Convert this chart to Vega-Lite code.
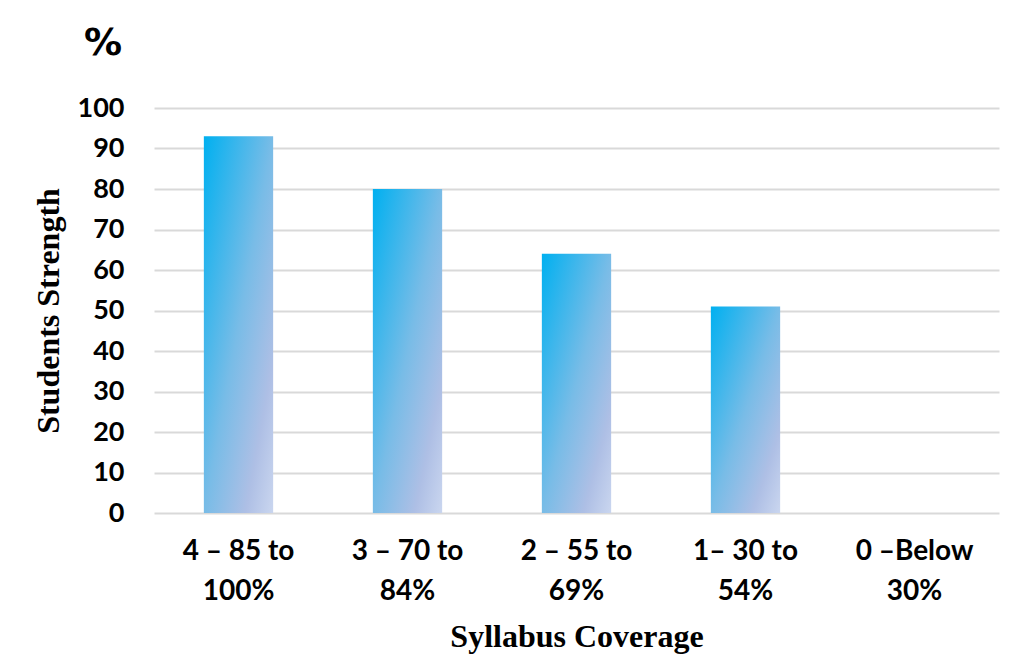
{
  "$schema": "https://vega.github.io/schema/vega-lite/v6.json",
  "width": 845,
  "height": 405,
  "autosize": {"type": "none"},
  "padding": {"left": 154, "top": 108, "right": 13, "bottom": 153},
  "background": "white",
  "config": {"view": {"stroke": null}},
  "title": {
    "text": "%",
    "anchor": "start",
    "frame": "group",
    "font": "DejaVu Sans",
    "fontWeight": "bold",
    "fontSize": 38,
    "color": "#000000",
    "dx": -70,
    "offset": 31
  },
  "data": {
    "values": [
      {"coverage": "4 – 85 to 100%", "strength": 93},
      {"coverage": "3 – 70 to 84%", "strength": 80},
      {"coverage": "2 – 55 to 69%", "strength": 64},
      {"coverage": "1– 30 to 54%", "strength": 51},
      {"coverage": "0 –Below 30%", "strength": 0}
    ]
  },
  "mark": {
    "type": "bar",
    "color": {
      "gradient": "linear",
      "x1": 0, "y1": 0, "x2": 1, "y2": 1,
      "stops": [
        {"offset": 0, "color": "#00B0F0"},
        {"offset": 0.5, "color": "#78BCE7"},
        {"offset": 0.8, "color": "#AEBFE5"},
        {"offset": 1, "color": "#CAD6EF"}
      ]
    }
  },
  "encoding": {
    "x": {
      "field": "coverage",
      "type": "nominal",
      "sort": null,
      "scale": {"paddingInner": 0.59, "paddingOuter": 0.295},
      "axis": {
        "title": "Syllabus Coverage",
        "titleFont": "Liberation Serif",
        "titleFontWeight": "bold",
        "titleFontSize": 32,
        "titleColor": "#000000",
        "titlePadding": 16,
        "labelExpr": "split(replace(replace(datum.label, ' to ', ' to|'), 'Below ', 'Below|'), '|')",
        "labelFont": "Lato",
        "labelFontWeight": "bold",
        "labelFontSize": 28,
        "labelLineHeight": 40,
        "labelColor": "#000000",
        "labelAngle": 0,
        "labelPadding": 24,
        "ticks": false,
        "domain": false,
        "grid": false
      }
    },
    "y": {
      "field": "strength",
      "type": "quantitative",
      "scale": {"domain": [0, 100]},
      "axis": {
        "title": "Students Strength",
        "titleFont": "Liberation Serif",
        "titleFontWeight": "bold",
        "titleFontSize": 32,
        "titleColor": "#000000",
        "titlePadding": 12,
        "values": [0, 10, 20, 30, 40, 50, 60, 70, 80, 90, 100],
        "labelFont": "Lato",
        "labelFontWeight": "bold",
        "labelFontSize": 27,
        "labelColor": "#000000",
        "labelPadding": 30,
        "ticks": false,
        "domain": false,
        "grid": true,
        "gridColor": "#D9D9D9",
        "gridWidth": 2
      }
    }
  }
}
